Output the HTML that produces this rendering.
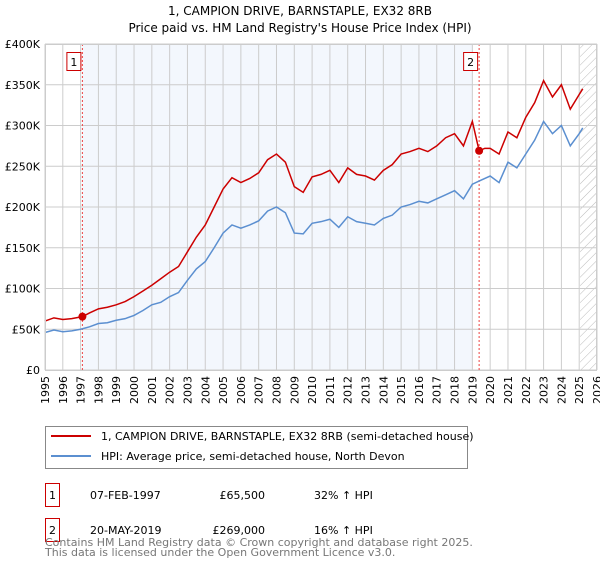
<!DOCTYPE html>
<html><head><meta charset="utf-8"><style>
body{margin:0;background:#fff;font-family:"Liberation Sans","DejaVu Sans",sans-serif;}
svg text{font-family:"DejaVu Sans","Liberation Sans",sans-serif;}
</style></head><body>
<svg id="c" width="600" height="560" xmlns="http://www.w3.org/2000/svg">
<text x="300" y="15" text-anchor="middle" font-size="12">1, CAMPION DRIVE, BARNSTAPLE, EX32 8RB</text>
<text x="300" y="32" text-anchor="middle" font-size="12">Price paid vs. HM Land Registry's House Price Index (HPI)</text>
<g id="plot"></g>
<g>
<rect x="45.5" y="426.5" width="422" height="42" fill="#fff" stroke="#888"/>
<line x1="51" y1="436" x2="91" y2="436" stroke="#cc0000" stroke-width="2"/>
<text x="101" y="440" font-size="11">1, CAMPION DRIVE, BARNSTAPLE, EX32 8RB (semi-detached house)</text>
<line x1="51" y1="456" x2="91" y2="456" stroke="#5b8fd0" stroke-width="2"/>
<text x="101" y="460" font-size="11">HPI: Average price, semi-detached house, North Devon</text>
</g>
<g font-size="11">
<rect x="45.5" y="483.5" width="14" height="23" fill="#fff" stroke="#cc0000"/>
<text x="52.5" y="499" text-anchor="middle">1</text>
<text x="90" y="499">07-FEB-1997</text><text x="265" y="499" text-anchor="end">£65,500</text><text x="314" y="499">32% ↑ HPI</text>
<rect x="45.5" y="518.5" width="14" height="23" fill="#fff" stroke="#cc0000"/>
<text x="52.5" y="534" text-anchor="middle">2</text>
<text x="90" y="534">20-MAY-2019</text><text x="265" y="534" text-anchor="end">£269,000</text><text x="314" y="534">16% ↑ HPI</text>
</g>
<text x="45" y="546" font-size="11" fill="#777">Contains HM Land Registry data © Crown copyright and database right 2025.</text>
<text x="45" y="556" font-size="11" fill="#777">This data is licensed under the Open Government Licence v3.0.</text>
</svg>
<script>
const yTicks=[0,50,100,150,200,250,300,350,400];
const yTickLabels=["£0","£50K","£100K","£150K","£200K","£250K","£300K","£350K","£400K"];
const xYears=[1995,1996,1997,1998,1999,2000,2001,2002,2003,2004,2005,2006,2007,2008,2009,2010,2011,2012,2013,2014,2015,2016,2017,2018,2019,2020,2021,2022,2023,2024,2025,2026];
const hpiT=[1995,1995.5,1996,1996.5,1997,1997.5,1998,1998.5,1999,1999.5,2000,2000.5,2001,2001.5,2002,2002.5,2003,2003.5,2004,2004.5,2005,2005.5,2006,2006.5,2007,2007.5,2008,2008.5,2009,2009.5,2010,2010.5,2011,2011.5,2012,2012.5,2013,2013.5,2014,2014.5,2015,2015.5,2016,2016.5,2017,2017.5,2018,2018.5,2019,2019.5,2020,2020.5,2021,2021.5,2022,2022.5,2023,2023.5,2024,2024.5,2025,2025.2];
const hpiV=[46,49,47,48,50,53,57,58,61,63,67,73,80,83,90,95,110,124,133,150,168,178,174,178,183,195,200,193,168,167,180,182,185,175,188,182,180,178,186,190,200,203,207,205,210,215,220,210,228,233,238,230,255,248,265,282,305,290,300,275,290,297];
const priceT=[1995,1995.5,1996,1996.5,1997.1,1997.5,1998,1998.5,1999,1999.5,2000,2000.5,2001,2001.5,2002,2002.5,2003,2003.5,2004,2004.5,2005,2005.5,2006,2006.5,2007,2007.5,2008,2008.5,2009,2009.5,2010,2010.5,2011,2011.5,2012,2012.5,2013,2013.5,2014,2014.5,2015,2015.5,2016,2016.5,2017,2017.5,2018,2018.5,2019,2019.38,2019.7,2020,2020.5,2021,2021.5,2022,2022.5,2023,2023.5,2024,2024.5,2025,2025.2];
const priceV=[60,64,62,63,65.5,70,75,77,80,84,90,97,104,112,120,127,145,163,178,200,222,236,230,235,242,258,265,255,225,218,237,240,245,230,248,240,238,233,245,252,265,268,272,268,275,285,290,275,305,269,272,272,265,292,285,310,328,355,335,350,320,338,345];
const saleT=[1997.1,2019.38];
const saleV=[65.5,269];
const saleLabels=["1","2"];
const X0=45,X1=597,Y0=370,Y1=44;
const x=t=>X0+(t-1995)/(2026-1995)*(X1-X0);
const y=v=>Y0-v/400*(Y0-Y1);
const NS="http://www.w3.org/2000/svg";
const g=document.getElementById('plot');
function mk(tag,a){const e=document.createElementNS(NS,tag);for(const k in a)e.setAttribute(k,a[k]);g.appendChild(e);return e;}
let e;
e=mk('rect',{x:x(saleT[0]),y:Y1,width:x(2019.0)-x(saleT[0]),height:Y0-Y1,fill:'#eef3fc',opacity:0.7});


const pat=document.createElementNS(NS,'pattern');pat.setAttribute('id','hatch');pat.setAttribute('width','6');pat.setAttribute('height','6');pat.setAttribute('patternUnits','userSpaceOnUse');pat.setAttribute('patternTransform','rotate(45)');
const pl=document.createElementNS(NS,'line');pl.setAttribute('x1','0');pl.setAttribute('y1','0');pl.setAttribute('x2','0');pl.setAttribute('y2','6');pl.setAttribute('stroke','#bbb');pat.appendChild(pl);
const defs=document.createElementNS(NS,'defs');defs.appendChild(pat);g.appendChild(defs);
e=mk('rect',{x:x(2025.05),y:Y1,width:X1-x(2025.05),height:Y0-Y1,fill:'url(#hatch)'});


xYears.forEach(t=>{
 e=mk('line',{x1:x(t),x2:x(t),y1:Y1,y2:Y0,stroke:'#ccc','stroke-width':1});
 
 
 e=mk('text',{x:0,y:0,'font-size':11,'text-anchor':'end',transform:`translate(${x(t)+4},${Y0+6}) rotate(-90)`});
 e.textContent=t;
 
 
});
yTicks.forEach((v,i)=>{
 e=mk('line',{x1:X0,x2:X1,y1:y(v),y2:y(v),stroke:'#ccc','stroke-width':1});
 
 
 e=mk('text',{x:40,y:y(v)+4,'font-size':11,'text-anchor':'end'});
 e.textContent=yTickLabels[i];
 
 
});
saleT.forEach((t,i)=>{
 e=mk('line',{x1:x(t),x2:x(t),y1:Y1,y2:Y0,stroke:'#ee4444','stroke-width':1,'stroke-dasharray':'2,2'});
 
 
});
e=mk('polyline',{points:hpiT.map((t,i)=>x(t)+','+y(hpiV[i])).join(' '),fill:'none',stroke:'#5b8fd0','stroke-width':1.5});


e=mk('polyline',{points:priceT.map((t,i)=>x(t)+','+y(priceV[i])).join(' '),fill:'none',stroke:'#cc0000','stroke-width':1.5});


saleT.forEach((t,i)=>{
 e=mk('circle',{cx:x(t),cy:y(saleV[i]),r:4,fill:'#cc0000'});
 
 
 e=mk('rect',{x:x(t)-15.5,y:52.5,width:14,height:18,fill:'#fff',stroke:'#cc0000'});
 
 
 e=mk('text',{x:x(t)-8.5,y:66,'font-size':11,'text-anchor':'middle'});
 e.textContent=saleLabels[i];
 
 
});
e=mk('rect',{x:X0+0.5,y:Y1+0.5,width:X1-X0-1,height:Y0-Y1,fill:'none',stroke:'#ccc'});


</script>
</body></html>
